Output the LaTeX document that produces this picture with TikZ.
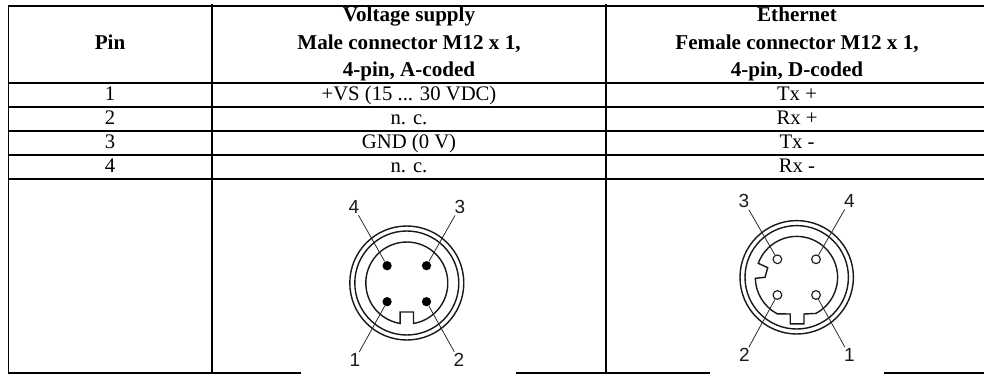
\documentclass[tikz,border=0pt]{standalone}
\usepackage{fontspec}
\setmainfont{Liberation Serif}
\newfontfamily\pinfont{Liberation Sans}
\usetikzlibrary{positioning}
\tikzset{
    rule/.style={line width=1.5pt},
    stem/.style={line width=1pt},
    cell/.style={font=\fontsize{14.7}{16}\selectfont, inner sep=0pt, anchor=base},
    head/.style={cell, font=\fontsize{15}{16}\selectfont\bfseries},
    ring/.style={line width=1pt, black!90},
    lead/.style={line width=0.55pt, black!85},
    number/.style={font=\pinfont\fontsize{13.5}{15}\selectfont, inner sep=1pt, black!90},
    solidpin/.style={circle, fill=black, inner sep=0pt, minimum size=6.6pt},
    openpin/.style={circle, draw, line width=0.8pt, black!90, inner sep=0pt, minimum size=6.2pt}
}
\begin{document}
\begin{tikzpicture}[x=0.025cm, y=0.025cm]
    \useasboundingbox (0,0) rectangle (984,-375);

    % Table rules
    \draw[rule] (8,-6) -- (984,-6);
    \foreach \y in {82.7,107,130.7,154.7,179} {
        \draw[rule] (8,-\y) -- (984,-\y);
    }
    \draw[rule] (8,-373) -- (301,-373);
    \draw[rule] (516,-373) -- (710,-373);
    \draw[rule] (884,-373) -- (984,-373);
    \draw[stem] (8.5,-6) -- (8.5,-373);
    \draw[stem] (212,-4) -- (212,-373);
    \draw[stem] (606,-4) -- (606,-373);

    % Header
    \node[head] (pinhead) at (110,-49) {Pin};
    \node[head] (vs1) at (409,-21.7) {Voltage supply};
    \node[head] (vs2) at (409,-49) {Male connector M12 x 1,};
    \node[head] (vs3) at (409,-76) {4-pin, A-coded};
    \node[head] (eth1) at (797,-21.7) {Ethernet};
    \node[head] (eth2) at (797,-49) {Female connector M12 x 1,};
    \node[head] (eth3) at (797,-76) {4-pin, D-coded};

    % Rows
    \foreach \n/\y/\a/\b in {1/100.7/{+VS (15 ... 30 VDC)}/{Tx +}, 2/124.3/{n. c.}/{Rx +},
                             3/148.3/{GND (0 V)}/{Tx -}, 4/172/{n. c.}/{Rx -}} {
        \node[cell] (pin\n) at (110,-\y) {\n};
        \node[cell] (supply\n) at (409,-\y) {\a};
        \node[cell] (net\n) at (797,-\y) {\b};
    }

    % Male connector
    \begin{scope}[shift={(406.8,-283)}]
        \draw[ring] (0,0) circle (57);
        \draw[ring] (0,0) circle (52);
        \draw[ring] (-80.6:41) arc[start angle=-80.6, end angle=260.6, radius=41]
            -- (-6.7,-29) -- (6.7,-29) -- cycle;
        \foreach \n/\x/\y/\lx/\ly in {4/-19.7/17.3/-53/76, 3/19.7/17.3/53/76,
                                      1/-19.7/-18.7/-52/-77, 2/19.7/-18.7/52/-77} {
            \node[solidpin] (mp\n) at (\x,\y) {};
            \node[number] (ml\n) at (\lx,\ly) {\n};
            \draw[lead] (ml\n) -- (mp\n);
        }
    \end{scope}

    % Female connector
    \begin{scope}[shift={(796.7,-277.3)}]
        \draw[ring] (0,0) circle (56.7);
        \draw[ring] (0,0) circle (51.7);
        \draw[ring] (-62:40.9) arc[start angle=-62, end angle=160, radius=40.9]
            -- (-29,9.6) -- (-31.7,0) -- (-41.4,-1)
            arc[start angle=181.4, end angle=242, radius=41.4]
            -- (-6.5,-36.7) -- (-6.5,-46.5) -- (7.3,-46.5) -- (7.3,-36.7) -- cycle;
        \foreach \n/\x/\y/\lx/\ly in {3/-19.3/18/-52.7/76, 4/19.3/18/52.7/76,
                                      2/-19.3/-17.7/-52.3/-78, 1/19.3/-17.7/52.7/-78} {
            \node[openpin] (fp\n) at (\x,\y) {};
            \node[number] (fl\n) at (\lx,\ly) {\n};
            \draw[lead] (fl\n) -- (fp\n);
        }
    \end{scope}
\end{tikzpicture}
\end{document}
